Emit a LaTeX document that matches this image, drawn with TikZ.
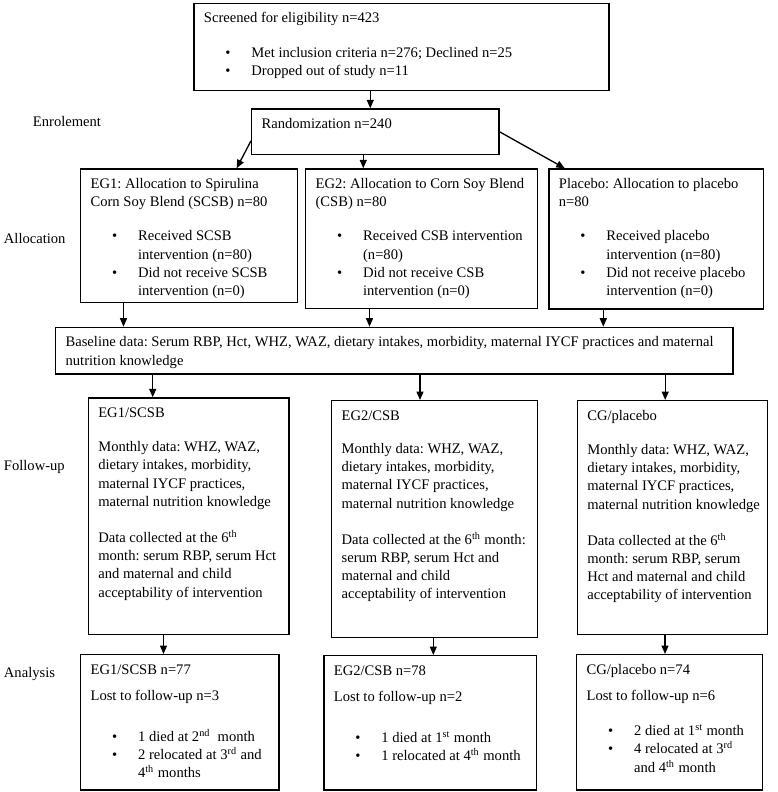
\documentclass[tikz,border=0pt]{standalone}
\usepackage{fontspec}
\setmainfont{Liberation Serif}
\usetikzlibrary{arrows.meta}

\newcommand{\boxtext}[3]{\parbox[t][#2][t]{#1}{\fontsize{8.3}{10.4}\selectfont\frenchspacing\raggedright\leftskip=0.2cm\rule{0pt}{0.39cm}#3}}
\newcommand{\bitem}[1]{\par\hangindent=0.95cm\hangafter=1\makebox[0.95cm][l]{\hspace{0.43cm}\textbullet}#1}

\begin{document}
\begin{tikzpicture}[box/.style={draw, line width=0.7pt, anchor=north west, inner sep=0pt}, lbl/.style={anchor=base west, inner sep=0pt, font=\fontsize{8.3}{10.4}\selectfont}, >={Triangle[length=1.7mm, width=1.4mm]}, line width=0.75pt]
    \useasboundingbox (0,0) rectangle (15.56,-15.84);

    \node[lbl] (enrol) at (0.646,-2.52) {Enrolement};
    \node[lbl] (allocl) at (0.066,-4.868) {Allocation};
    \node[lbl] (follow) at (0.066,-9.408) {Follow-up};
    \node[lbl] (analysis) at (0.066,-13.54) {Analysis};

    \node[box] (top) at (3.866,-0.054) {\boxtext{8.3cm}{1.746cm}{Screened for eligibility n=423\par\vspace{0.32cm}\bitem{Met inclusion criteria n=276; Declined n=25}\bitem{Dropped out of study n=11}}};
    \node[box] (rand) at (5.02,-2.166) {\boxtext{4.946cm}{0.914cm}{Randomization n=240}};

    \node[box] (alloc1) at (1.6,-3.366) {\boxtext{4.34cm}{2.674cm}{EG1: Allocation to Spirulina\\Corn Soy Blend (SCSB) n=80\par\vspace{0.32cm}\bitem{Received SCSB\newline intervention (n=80)}\bitem{Did not receive SCSB\newline intervention (n=0)}}};
    \node[box] (alloc2) at (6.1,-3.366) {\boxtext{4.634cm}{2.794cm}{EG2: Allocation to Corn Soy Blend\\(CSB) n=80\par\vspace{0.32cm}\bitem{Received CSB intervention\newline (n=80)}\bitem{Did not receive CSB\newline intervention (n=0)}}};
    \node[box] (alloc3) at (10.966,-3.366) {\boxtext{4.294cm}{2.8cm}{Placebo: Allocation to placebo\\n=80\par\vspace{0.32cm}\bitem{Received placebo\newline intervention (n=80)}\bitem{Did not receive placebo\newline intervention (n=0)}}};

    \node[box] (base) at (1.1,-6.534) {\boxtext{13.546cm}{0.934cm}{Baseline data: Serum RBP, Hct, WHZ, WAZ, dietary intakes, morbidity, maternal IYCF practices and maternal\\nutrition knowledge}};

    \node[box] (fol1) at (1.754,-7.946) {\boxtext{4.014cm}{4.734cm}{EG1/SCSB\par\vspace{0.32cm}Monthly data: WHZ, WAZ,\\dietary intakes, morbidity,\\maternal IYCF practices,\\maternal nutrition knowledge\par\vspace{0.35cm}Data collected at the 6\textsuperscript{th}\\month: serum RBP, serum Hct\\and maternal and child\\acceptability of intervention}};
    \node[box] (fol2) at (6.62,-8.0) {\boxtext{4.114cm}{4.734cm}{EG2/CSB\par\vspace{0.3cm}Monthly data: WHZ, WAZ,\\dietary intakes, morbidity,\\maternal IYCF practices,\\maternal nutrition knowledge\par\vspace{0.35cm}Data collected at the 6\textsuperscript{th} month:\\serum RBP, serum Hct and\\maternal and child\\acceptability of intervention}};
    \node[box] (fol3) at (11.534,-8.0) {\boxtext{3.8cm}{4.68cm}{CG/placebo\par\vspace{0.32cm}Monthly data: WHZ, WAZ,\\dietary intakes, morbidity,\\maternal IYCF practices,\\maternal nutrition knowledge\par\vspace{0.35cm}Data collected at the 6\textsuperscript{th}\\month: serum RBP, serum\\Hct and maternal and child\\acceptability of intervention}};

    \node[box] (ana1) at (1.6,-13.08) {\boxtext{3.966cm}{2.706cm}{EG1/SCSB n=77\par\vspace{0.17cm}Lost to follow-up n=3\par\vspace{0.44cm}\bitem{1 died at 2\textsuperscript{nd}~ month}\bitem{2 relocated at 3\textsuperscript{rd} and\newline 4\textsuperscript{th} months}}};
    \node[box] (ana2) at (6.466,-13.1) {\boxtext{4.254cm}{2.686cm}{EG2/CSB n=78\par\vspace{0.17cm}Lost to follow-up n=2\par\vspace{0.44cm}\bitem{1 died at 1\textsuperscript{st} month}\bitem{1 relocated at 4\textsuperscript{th} month}}};
    \node[box] (ana3) at (11.52,-13.08) {\boxtext{3.714cm}{2.706cm}{CG/placebo n=74\par\vspace{0.17cm}Lost to follow-up n=6\par\vspace{0.33cm}\bitem{2 died at 1\textsuperscript{st} month}\bitem{4 relocated at 3\textsuperscript{rd}\newline and 4\textsuperscript{th} month}}};

    \draw[->] ([xshift=-0.1cm]rand.north |- top.south) -- ([xshift=-0.1cm]rand.north);
    \draw[->] ([yshift=-0.18cm]rand.west) -- ([xshift=0.95cm]alloc1.north);
    \draw[->] ([xshift=-0.24cm]rand.south) -- ([xshift=-0.24cm]rand.south |- alloc2.north);
    \draw[->] (rand.east) -- ([xshift=0.33cm]alloc3.north west);

    \draw[->] ([xshift=0.87cm]alloc1.south west) -- ([xshift=0.87cm]alloc1.south west |- base.north);
    \draw[->] ([xshift=1.29cm]alloc2.south west) -- ([xshift=1.29cm]alloc2.south west |- base.north);
    \draw[->] ([xshift=1.1cm]alloc3.south west) -- ([xshift=1.1cm]alloc3.south west |- base.north);

    \draw[->] ([xshift=1.3cm]fol1.north west |- base.south) -- ([xshift=1.3cm]fol1.north west);
    \draw[->] ([xshift=1.78cm]fol2.north west |- base.south) -- ([xshift=1.78cm]fol2.north west);
    \draw[->] ([xshift=1.77cm]fol3.north west |- base.south) -- ([xshift=1.77cm]fol3.north west);

    \draw[->] ([xshift=1.67cm]ana1.north west |- fol1.south) -- ([xshift=1.67cm]ana1.north west);
    \draw[->] ([xshift=2.2cm]ana2.north west |- fol2.south) -- ([xshift=2.2cm]ana2.north west);
    \draw[->] ([xshift=1.78cm]ana3.north west |- fol3.south) -- ([xshift=1.78cm]ana3.north west);
\end{tikzpicture}
\end{document}
